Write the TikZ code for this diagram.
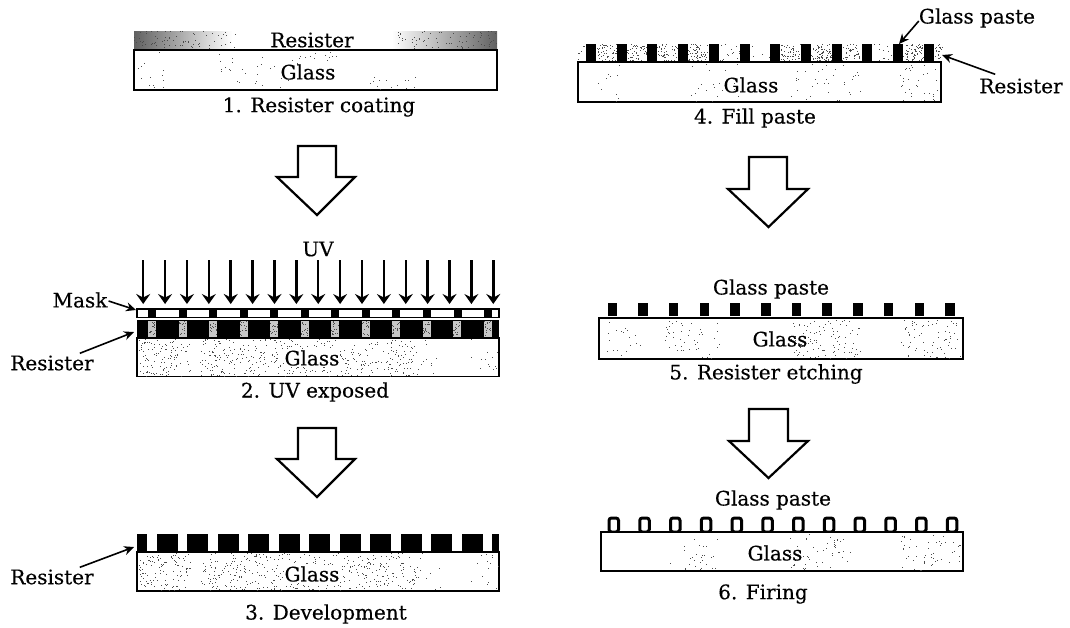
\documentclass[tikz,border=0pt]{standalone}
\usepackage{fontspec}
\setmainfont[FakeBold=0.35]{DejaVu Serif}
\usetikzlibrary{arrows.meta}
\newcommand{\speck}[5]{%
  \foreach \i in {1,...,#5}{%
    \pgfmathsetmacro\sx{#1+rnd*(#2-#1)}%
    \pgfmathsetmacro\sy{#3+rnd*(#4-#3)}%
    \fill[black!70] (\sx,\sy) rectangle +(1,1);
  }}
\tikzset{
  x=1pt,y=-1pt,
  lbl/.style={inner sep=0pt,font=\fontsize{20}{22}\selectfont,text=black},
  glassbox/.style={draw=black,line width=1.6pt,fill=white},
  bigarrow/.style={draw=black,line width=2.2pt,fill=white,line join=miter},
  uvarrow/.style={draw=black,line width=2.5pt,-{Stealth[length=10pt,width=14pt,inset=3.5pt]}},
  callout/.style={draw=black,line width=1.6pt,-{Stealth[length=10pt,width=9pt]}},
  blk/.style={fill=black,draw=none},
}
\begin{document}
\begin{tikzpicture}
\pgfmathsetseed{4242}
\useasboundingbox (0,0) rectangle (1070,627);
\fill[white] (0,0) rectangle (1070,627);

% ---------- Panel 1
\fill[left color=black!62,right color=white] (134,31) rectangle (232,48);
\fill[left color=white,right color=black!62] (392,31) rectangle (497,48);
\speck{134}{235}{31}{48}{70}
\speck{395}{497}{31}{48}{70}
\draw[glassbox] (134,50) rectangle (497,90);
\speck{136}{165}{52}{89}{14}
\speck{215}{300}{52}{89}{30}
\speck{300}{345}{52}{60}{10}
\speck{370}{420}{76}{89}{14}
\node[lbl] (r1) at (312,40) {Resister};
\node[lbl] (g1) at (308,72) {Glass};
\node[lbl] (c1) at (319,107) {1. Resister coating};

% ---------- big arrows
\draw[bigarrow] (298,146)--(336,146)--(336,177)--(355,177)--(317,215)--(277,177)--(298,177)--cycle;
\draw[bigarrow] (298,428)--(336,428)--(336,459)--(355,459)--(317,497)--(277,459)--(298,459)--cycle;
\draw[bigarrow] (749,157)--(787,157)--(787,189)--(808,189)--(768.5,227)--(728,189)--(749,189)--cycle;
\draw[bigarrow] (749,409)--(788,409)--(788,441)--(808,441)--(768.5,478)--(729,441)--(749,441)--cycle;

% ---------- Panel 2
\node[lbl] (uv) at (318,249) {UV};
\foreach \i in {0,...,16}{
  \pgfmathsetmacro\ax{143.2+21.88*\i}
  \coordinate (uvs\i) at (\ax,260);
  \coordinate (uve\i) at (\ax,304);
  \draw[uvarrow] (uvs\i)--(uve\i);
}
\draw[draw=black,line width=1.6pt,fill=white] (137,309) rectangle (499,317.5);
\foreach \i in {0,...,11}{
  \pgfmathsetmacro\ax{148+30.55*\i}
  \fill[blk] (\ax,309) rectangle +(8,8.5);
}
\fill[blk] (137,320) rectangle (499,337);
\foreach \i in {0,...,11}{
  \pgfmathsetmacro\ax{148+30.5*\i}
  \fill[black!22] (\ax,321) rectangle +(8,15.5);
  \speck{\ax}{\ax+7}{321}{335}{16}
}
\draw[glassbox] (137,338) rectangle (499,376.5);
\speck{138}{190}{339}{376}{110}
\speck{200}{300}{339}{376}{200}
\speck{300}{415}{339}{376}{200}
\speck{415}{440}{339}{376}{12}
\speck{470}{498}{339}{376}{14}
\node[lbl,fill=white,inner sep=1pt] (g2) at (312,358) {Glass};
\node[lbl] (c2) at (315,392) {2. UV exposed};
\node[lbl] (mask) at (80,300) {Mask};
\node[lbl] (res2) at (52,363) {Resister};
\coordinate (maskend) at (136,310);
\coordinate (res2end) at (134,332);
\draw[callout] (mask.east)++(1,1) -- (maskend);
\draw[callout] (res2.north east)++(-14,-2) -- (res2end);

% ---------- Panel 3
\fill[blk] (137,534) rectangle (499,552);
\foreach \i in {0,...,11}{
  \pgfmathsetmacro\ax{147+30.5*\i}
  \fill[white] (\ax,532) rectangle +(9.5,18.5);
}
\draw[glassbox] (137,552) rectangle (499,591);
\speck{138}{190}{553}{590}{110}
\speck{200}{300}{553}{590}{200}
\speck{300}{415}{553}{590}{200}
\speck{415}{440}{553}{590}{12}
\speck{470}{498}{553}{590}{14}
\node[lbl,fill=white,inner sep=1pt] (g3) at (312,574) {Glass};
\node[lbl] (c3) at (326,614) {3. Development};
\node[lbl] (res3) at (52,577) {Resister};
\coordinate (res3end) at (134,547);
\draw[callout] (res3.north east)++(-14,-2) -- (res3end);

% ---------- Panel 4
\foreach \a/\b/\n in {578/586/8,596/617/50,627/647/50,657/677/45,687/707/60,718/739/14,749/770/6,780/801/55,811/832/80,842/862/45,872/893/12,903/923/70,934/942/20}{
  \speck{\a}{\b}{44}{61}{\n}
}
\foreach \i in {0,...,11}{
  \pgfmathsetmacro\ax{586+30.7*\i}
  \fill[blk] (\ax,44) rectangle +(10,18);
}
\draw[glassbox] (578,62) rectangle (941,102);
\speck{690}{740}{64}{101}{20}
\speck{790}{860}{64}{101}{35}
\speck{900}{939}{64}{101}{35}
\speck{585}{620}{64}{101}{10}
\node[lbl] (g4) at (751,85) {Glass};
\node[lbl] (c4) at (755,118) {4. Fill paste};
\node[lbl] (gp4) at (977,18) {Glass paste};
\node[lbl] (res4) at (1021,86) {Resister};
\coordinate (gp4end) at (899,44);
\coordinate (res4end) at (942,55);
\draw[callout] (gp4.west)++(0,3) -- (gp4end);
\draw[callout] (res4.north west)++(16,-4) -- (res4end);

% ---------- Panel 5
\foreach \i in {0,...,11}{
  \pgfmathsetmacro\ax{607.5+30.7*\i}
  \fill[blk] (\ax,303) rectangle +(9.5,13);
}
\draw[glassbox] (599,318) rectangle (963,359);
\speck{605}{640}{320}{358}{18}
\speck{665}{720}{320}{358}{45}
\speck{790}{860}{320}{358}{100}
\speck{900}{960}{320}{358}{70}
\node[lbl] (gp5) at (771,289) {Glass paste};
\node[lbl] (g5) at (780,339) {Glass};
\node[lbl] (c5) at (766,374) {5. Resister etching};

% ---------- Panel 6
\foreach \i in {0,...,11}{
  \pgfmathsetmacro\ax{609+30.75*\i}
  \draw[draw=black,line width=3pt,fill=white,rounded corners=2.5pt] (\ax,518) rectangle +(9.5,14);
}
\draw[glassbox] (601,532) rectangle (963,571);
\speck{670}{720}{534}{570}{28}
\speck{790}{850}{534}{570}{50}
\speck{900}{960}{534}{570}{50}
\node[lbl] (gp6) at (773,500) {Glass paste};
\node[lbl] (g6) at (775,553) {Glass};
\node[lbl] (c6) at (763,594) {6. Firing};
\end{tikzpicture}
\end{document}
